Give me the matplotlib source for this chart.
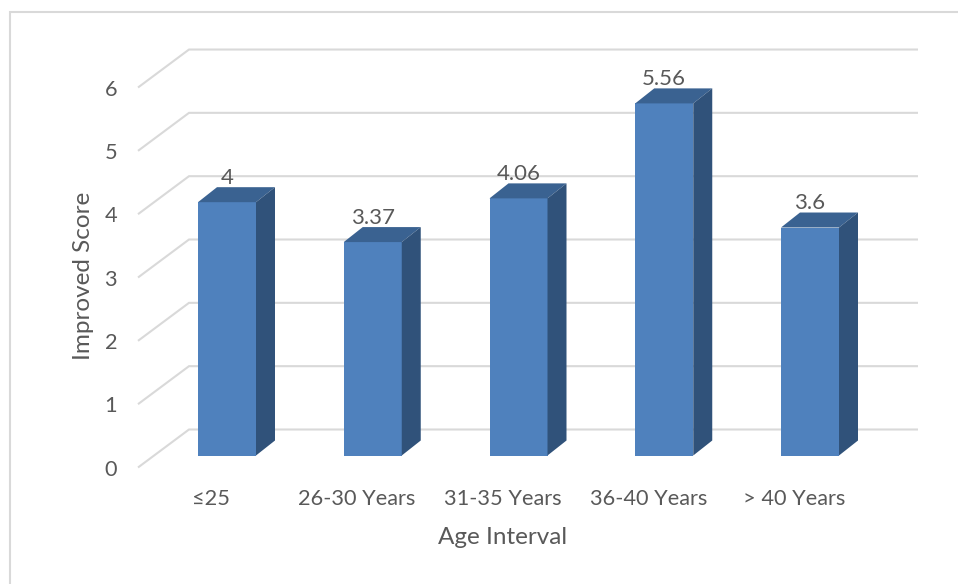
import matplotlib
matplotlib.use("Agg")
import matplotlib.pyplot as plt
from matplotlib.lines import Line2D
from matplotlib.patches import Polygon

plt.rcParams['font.family'] = ['Lato', 'DejaVu Sans']

categories = ['≤25', '26-30 Years', '31-35 Years', '36-40 Years', '> 40 Years']
values = [4, 3.37, 4.06, 5.56, 3.6]
value_labels = ['4', '3.37', '4.06', '5.56', '3.6']
y_ticks = [0, 1, 2, 3, 4, 5, 6]
x_title = 'Age Interval'
y_title = 'Improved Score'

W, H = 958, 584
TEXT = '#595959'
GRID = '#D9D9D9'
FRONT = '#4F81BD'
TOP = '#3A6291'
SIDE = '#30527A'

fig = plt.figure(figsize=(W / 100, H / 100), dpi=100, facecolor='white')

# axes box in pixels: wall front edge to right end of back wall
L, R, B, T = 138, 918, 467.5, 49.5
ax = fig.add_axes([L / W, 1 - B / H, (R - L) / W, (B - T) / H])
PX_Y = 63.33          # pixels per value unit
PITCH = 145.75        # pixels per category
C0 = 227              # pixel of first bar centre
ax.set_xlim((L - C0) / PITCH, (R - C0) / PITCH)
ax.set_ylim(0, (B - T) / PX_Y)
ax.patch.set_alpha(0)
for s in ax.spines.values():
    s.set_visible(False)

dx = lambda p: p / PITCH
dy = lambda p: p / PX_Y

# perspective gridlines
x_front, x_back, x_end = ax.get_xlim()[0], ax.get_xlim()[0] + dx(51), ax.get_xlim()[1]
for t in y_ticks:
    ax.plot([x_front, x_back, x_end], [t, t + dy(38), t + dy(38)], color=GRID,
            lw=1.5, solid_joinstyle='miter', solid_capstyle='butt', zorder=1, clip_on=False)

# 3-D columns
half = dx(29)
base = dy(12)
ddx, ddy = dx(19), dy(15)
for i, (v, lab) in enumerate(zip(values, value_labels)):
    l, r, b, t = i - half, i + half, base, base + v
    ax.add_patch(Polygon([(l, b), (r, b), (r, t), (l, t)], closed=True, fc=FRONT, ec='none', zorder=3))
    ax.add_patch(Polygon([(l, t), (r, t), (r + ddx, t + ddy), (l + ddx, t + ddy)], closed=True, fc=TOP, ec='none', zorder=3))
    ax.add_patch(Polygon([(r, b), (r + ddx, b + ddy), (r + ddx, t + ddy), (r, t)], closed=True, fc=SIDE, ec='none', zorder=3))
    ax.annotate(lab, (i, t), xytext=(0, 17.5), textcoords='offset points', ha='center', va='center',
                color=TEXT, fontsize=16, zorder=4)

ax.set_yticks(y_ticks)
ax.set_xticks([i - dx(16) for i in range(len(categories))])
ax.set_xticklabels(categories)
ax.tick_params(axis='both', length=0, labelcolor=TEXT, labelsize=15.7)
ax.tick_params(axis='y', pad=15)
ax.tick_params(axis='x', pad=15.5)
ax.grid(False)

fig.text(83 / W, 1 - 276 / H, y_title, rotation=90, ha='center', va='center', color=TEXT, fontsize=17.5)
fig.text(502.5 / W, 1 - 537 / H, x_title, ha='center', va='center', color=TEXT, fontsize=17.5)

# outer chart border
fig.add_artist(Line2D([10 / W, 10 / W, 1], [0, 1 - 12 / H, 1 - 12 / H], color=GRID, lw=1.5,
                      solid_joinstyle='miter'))

fig.savefig('out.png', dpi=100)
